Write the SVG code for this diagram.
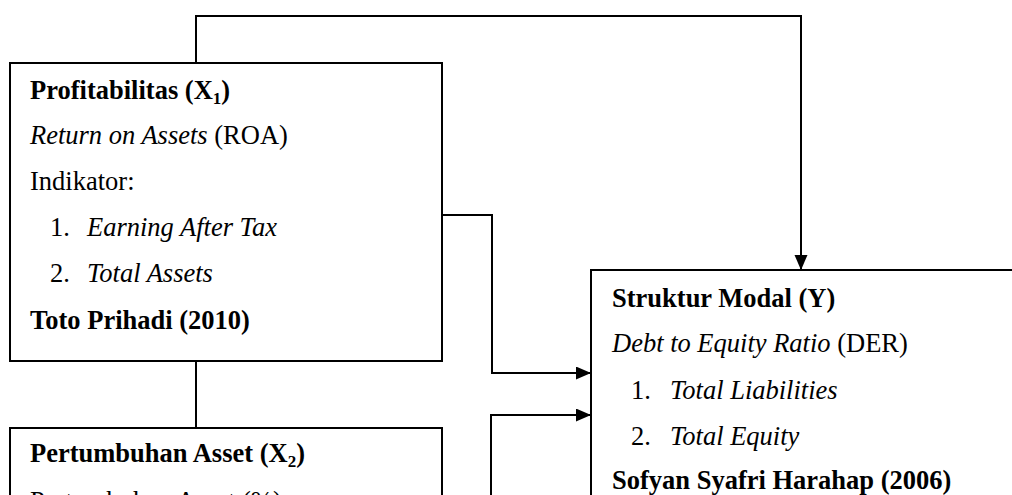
<svg xmlns="http://www.w3.org/2000/svg" width="1012" height="495" viewBox="0 0 1012 495">
<defs>
<style>
.box{fill:#fff;stroke:#000;stroke-width:2}
.t{font-family:"Liberation Serif","Times New Roman",serif;font-size:26.5px;fill:#000}
.b{font-weight:bold}
.i{font-style:italic}
.sub{font-size:17px}
.con{fill:none;stroke:#000;stroke-width:2}
</style>
<marker id="arr" markerUnits="userSpaceOnUse" markerWidth="16" markerHeight="14" refX="15" refY="6.5" orient="auto">
<path d="M0,0 L15,6.5 L0,13 z" fill="#000"/>
</marker>
</defs>
<rect width="1012" height="495" fill="#fff"/>
<g id="x1">
<rect class="box" x="10" y="63" width="432" height="298"/>
<text class="t b" x="30" y="99">Profitabilitas (X<tspan class="sub" dy="5">1</tspan><tspan dy="-5">)</tspan></text>
<text class="t" x="30" y="144"><tspan class="i">Return on Assets</tspan> (ROA)</text>
<text class="t" x="30" y="190">Indikator:</text>
<text class="t" x="50" y="236">1.</text>
<text class="t i" x="87" y="236">Earning After Tax</text>
<text class="t" x="50" y="282">2.</text>
<text class="t i" x="87" y="282">Total Assets</text>
<text class="t b" x="30" y="329">Toto Prihadi (2010)</text>
</g>
<g id="x2">
<rect class="box" x="10" y="428" width="432" height="200"/>
<text class="t b" x="30" y="462">Pertumbuhan Asset (X<tspan class="sub" dy="5">2</tspan><tspan dy="-5">)</tspan></text>
<text class="t" x="30" y="510">Pertumbuhan Asset (%)</text>
</g>
<g id="y">
<rect class="box" x="591" y="270" width="500" height="300"/>
<text class="t b" x="612" y="307">Struktur Modal (Y)</text>
<text class="t" x="612" y="352"><tspan class="i">Debt to Equity Ratio</tspan> (DER)</text>
<text class="t" x="631" y="399">1.</text>
<text class="t i" x="670" y="399">Total Liabilities</text>
<text class="t" x="631" y="445">2.</text>
<text class="t i" x="670" y="445">Total Equity</text>
<text class="t b" x="612" y="489">Sofyan Syafri Harahap (2006)</text>
</g>
<g id="connectors">
<path class="con" d="M196,63 V16 H801 V270" marker-end="url(#arr)"/>
<path class="con" d="M196,361 V428"/>
<path class="con" d="M442,215 H492 V373 H591" marker-end="url(#arr)"/>
<path class="con" d="M491,496 V415 H591" marker-end="url(#arr)"/>
</g>
</svg>
